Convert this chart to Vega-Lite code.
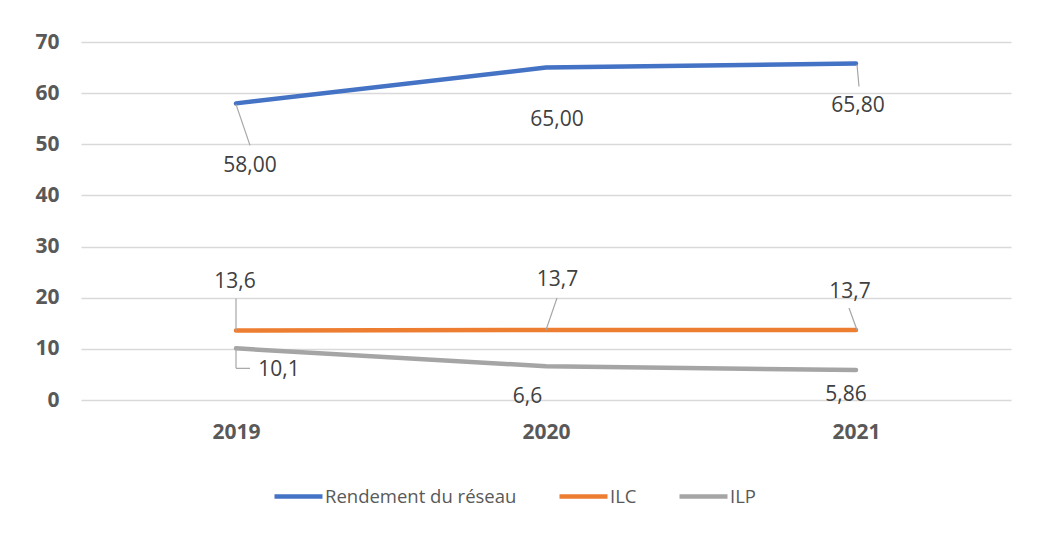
{
  "$schema": "https://vega.github.io/schema/vega-lite/v6.json",
  "width": 930,
  "height": 358,
  "autosize": {"type": "none"},
  "padding": {"left": 81, "top": 42, "right": 51, "bottom": 160},
  "background": "white",
  "config": {"view": {"stroke": null}, "font": "Open Sans"},
  "data": {
    "values": [
      {"year": "2019", "series": "Rendement du réseau", "value": 58, "label": "58,00"},
      {"year": "2020", "series": "Rendement du réseau", "value": 65, "label": "65,00"},
      {"year": "2021", "series": "Rendement du réseau", "value": 65.8, "label": "65,80"},
      {"year": "2019", "series": "ILC", "value": 13.6, "label": "13,6"},
      {"year": "2020", "series": "ILC", "value": 13.7, "label": "13,7"},
      {"year": "2021", "series": "ILC", "value": 13.7, "label": "13,7"},
      {"year": "2019", "series": "ILP", "value": 10.1, "label": "10,1"},
      {"year": "2020", "series": "ILP", "value": 6.6, "label": "6,6"},
      {"year": "2021", "series": "ILP", "value": 5.86, "label": "5,86"}
    ]
  },
  "encoding": {
    "x": {
      "field": "year", "type": "ordinal",
      "scale": {"type": "point", "padding": 0.5},
      "axis": {"title": null, "labelAngle": 0, "grid": false, "domain": false, "ticks": false,
               "labelFontWeight": "bold", "labelFontSize": 21, "labelColor": "#595959",
               "labelPadding": 21, "labelFont": "Open Sans"}
    },
    "y": {
      "field": "value", "type": "quantitative",
      "scale": {"domain": [0, 70], "nice": false},
      "axis": {"title": null, "grid": true, "gridColor": "#D9D9D9", "gridWidth": 1.5,
               "domain": false, "ticks": false, "values": [0, 10, 20, 30, 40, 50, 60, 70],
               "labelFontWeight": "bold", "labelFontSize": 21, "labelColor": "#595959",
               "labelPadding": 22, "labelFont": "Open Sans"}
    }
  },
  "layer": [
    {
      "mark": {"type": "line", "strokeWidth": 4.5, "strokeCap": "round", "strokeJoin": "round"},
      "encoding": {
        "color": {
          "field": "series", "type": "nominal",
          "scale": {"domain": ["Rendement du réseau", "ILC", "ILP"], "range": ["#4472C4", "#ED7D31", "#A5A5A5"]},
          "legend": {"title": null, "orient": "none", "direction": "horizontal", "legendX": 191, "legendY": 428,
                     "symbolType": "stroke", "symbolSize": 2304, "symbolStrokeWidth": 4.5,
                     "labelFontSize": 18.5, "labelColor": "#595959", "labelFont": "Open Sans", "labelLimit": 0,
                     "columnPadding": 33, "labelOffset": 0, "padding": 0}
        }
      }
    },
    {"transform": [{"filter": "datum.series == 'Rendement du réseau' && datum.year == '2019'"}],
     "mark": {"type": "rule", "color": "#A6A6A6", "strokeWidth": 1.2, "yOffset": 1, "x2Offset": 14, "y2Offset": 42},
     "encoding": {"x2": {"field": "year"}, "y2": {"field": "value"}}},
    {"transform": [{"filter": "datum.series == 'Rendement du réseau' && datum.year == '2021'"}],
     "mark": {"type": "rule", "color": "#A6A6A6", "strokeWidth": 1.2, "xOffset": 1, "yOffset": 1, "x2Offset": 3, "y2Offset": 23},
     "encoding": {"x2": {"field": "year"}, "y2": {"field": "value"}}},
    {"transform": [{"filter": "datum.series == 'ILC' && datum.year == '2019'"}],
     "mark": {"type": "rule", "color": "#A6A6A6", "strokeWidth": 1.2, "x2Offset": 0, "y2Offset": -32},
     "encoding": {"x2": {"field": "year"}, "y2": {"field": "value"}}},
    {"transform": [{"filter": "datum.series == 'ILC' && datum.year == '2020'"}],
     "mark": {"type": "rule", "color": "#A6A6A6", "strokeWidth": 1.2, "x2Offset": 11, "y2Offset": -32},
     "encoding": {"x2": {"field": "year"}, "y2": {"field": "value"}}},
    {"transform": [{"filter": "datum.series == 'ILC' && datum.year == '2021'"}],
     "mark": {"type": "rule", "color": "#A6A6A6", "strokeWidth": 1.2, "xOffset": 1, "x2Offset": -7, "y2Offset": -22},
     "encoding": {"x2": {"field": "year"}, "y2": {"field": "value"}}},
    {"transform": [{"filter": "datum.series == 'ILP' && datum.year == '2019'"}],
     "mark": {"type": "rule", "color": "#A6A6A6", "strokeWidth": 1.2, "x2Offset": 0, "y2Offset": 20},
     "encoding": {"x2": {"field": "year"}, "y2": {"field": "value"}}},
    {"transform": [{"filter": "datum.series == 'ILP' && datum.year == '2019'"}],
     "mark": {"type": "rule", "color": "#A6A6A6", "strokeWidth": 1.2, "yOffset": 20, "x2Offset": 14, "y2Offset": 20},
     "encoding": {"x2": {"field": "year"}, "y2": {"field": "value"}}},
    {"transform": [{"filter": "datum.series == 'Rendement du réseau' && datum.year == '2019'"}],
     "mark": {"type": "text", "fontSize": 21, "color": "#404040", "baseline": "middle", "dx": 14, "dy": 63},
     "encoding": {"text": {"field": "label"}}},
    {"transform": [{"filter": "datum.series == 'Rendement du réseau' && datum.year == '2020'"}],
     "mark": {"type": "text", "fontSize": 21, "color": "#404040", "baseline": "middle", "dx": 11, "dy": 52},
     "encoding": {"text": {"field": "label"}}},
    {"transform": [{"filter": "datum.series == 'Rendement du réseau' && datum.year == '2021'"}],
     "mark": {"type": "text", "fontSize": 21, "color": "#404040", "baseline": "middle", "dx": 2, "dy": 43},
     "encoding": {"text": {"field": "label"}}},
    {"transform": [{"filter": "datum.series == 'ILC' && datum.year == '2019'"}],
     "mark": {"type": "text", "fontSize": 21, "color": "#404040", "baseline": "middle", "dx": -1, "dy": -48},
     "encoding": {"text": {"field": "label"}}},
    {"transform": [{"filter": "datum.series == 'ILC' && datum.year == '2020'"}],
     "mark": {"type": "text", "fontSize": 21, "color": "#404040", "baseline": "middle", "dx": 11.5, "dy": -50},
     "encoding": {"text": {"field": "label"}}},
    {"transform": [{"filter": "datum.series == 'ILC' && datum.year == '2021'"}],
     "mark": {"type": "text", "fontSize": 21, "color": "#404040", "baseline": "middle", "dx": -6, "dy": -38},
     "encoding": {"text": {"field": "label"}}},
    {"transform": [{"filter": "datum.series == 'ILP' && datum.year == '2019'"}],
     "mark": {"type": "text", "fontSize": 21, "color": "#404040", "baseline": "middle", "dx": 43, "dy": 22},
     "encoding": {"text": {"field": "label"}}},
    {"transform": [{"filter": "datum.series == 'ILP' && datum.year == '2020'"}],
     "mark": {"type": "text", "fontSize": 21, "color": "#404040", "baseline": "middle", "dx": -18.5, "dy": 31},
     "encoding": {"text": {"field": "label"}}},
    {"transform": [{"filter": "datum.series == 'ILP' && datum.year == '2021'"}],
     "mark": {"type": "text", "fontSize": 21, "color": "#404040", "baseline": "middle", "dx": -10, "dy": 25},
     "encoding": {"text": {"field": "label"}}}
  ]
}
